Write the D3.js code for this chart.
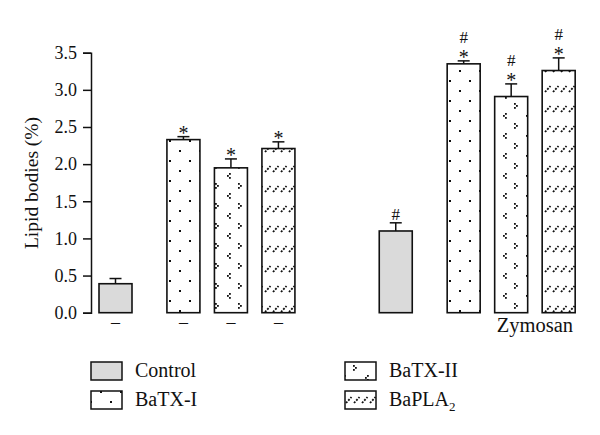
<!DOCTYPE html>
<html>
<head>
<meta charset="utf-8">
<script src="https://cdn.jsdelivr.net/npm/d3@7"></script>
<style>
  body { margin: 0; background: #fff; }
  text { font-family: "Liberation Serif", "DejaVu Serif", serif; fill: #111; }
</style>
</head>
<body>
<div id="chart"></div>
<script>
let width = 600
let height = 435

// data
let treatments = ['Control', 'BaTX-I', 'BaTX-II', 'BaPLA2']
let groups = ['', 'Zymosan']
let noneMeans = [0.39, 2.33, 1.95, 2.21]
let noneErrs = [0.07, 0.04, 0.12, 0.09]
let zymMeans = [1.10, 3.35, 2.91, 3.26]
let zymErrs = [0.11, 0.04, 0.17, 0.17]
let yTicks = [0, 0.5, 1.0, 1.5, 2.0, 2.5, 3.0, 3.5]

let yScale = d3.scaleLinear()
  .domain([0, 3.5])
  .range([312.7, 52.7])

// one unit = spacing of neighbouring toxin bars
let xScale = d3.scaleLinear()
  .domain([0, 1])
  .range([99, 146.5])

let barW = 33

let slot = (g, i) => g * 5.9 + i + (i > 0 ? 0.43 : 0)

let bars = []
groups.forEach((g, gi) => {
  let means = gi === 0 ? noneMeans : zymMeans
  let errs = gi === 0 ? noneErrs : zymErrs
  treatments.forEach((t, i) => {
    bars.push({group: g, gi: gi, treatment: t, ti: i, mean: means[i], err: errs[i]})
  })
})

let svg = d3.select('#chart').append('svg')
  .attr('width', width)
  .attr('height', height)

let defs = svg.append('defs')

// BaTX-I: sparse checker dots
let p1 = defs.append('pattern').attr('id', 'pat1')
  .attr('patternUnits', 'userSpaceOnUse')
  .attr('width', 20).attr('height', 20)
  .attr('x', 9).attr('y', 0)
p1.append('rect').attr('width', 20).attr('height', 20).attr('fill', '#fff')
p1.append('rect').attr('x', 0).attr('y', 0).attr('width', 2).attr('height', 2).attr('fill', '#111')
p1.append('rect').attr('x', 10).attr('y', 10).attr('width', 2).attr('height', 2).attr('fill', '#111')

// BaTX-II: little chevrons
let p2 = defs.append('pattern').attr('id', 'pat2')
  .attr('patternUnits', 'userSpaceOnUse')
  .attr('width', 23).attr('height', 20)
  .attr('x', 215).attr('y', 3)
p2.append('rect').attr('width', 23).attr('height', 20).attr('fill', '#fff')
let chevR = [[0, 0], [2, 2], [0, 4]]
let chevL = [[2, 0], [0, 2], [2, 4]]
chevR.forEach(d => p2.append('rect').attr('x', d[0]).attr('y', d[1]).attr('width', 1.8).attr('height', 1.8).attr('fill', '#111'))
chevL.forEach(d => p2.append('rect').attr('x', d[0] + 12).attr('y', d[1] + 10).attr('width', 1.8).attr('height', 1.8).attr('fill', '#111'))

// BaPLA2: rows of dotted slashes
let p3 = defs.append('pattern').attr('id', 'pat3')
  .attr('patternUnits', 'userSpaceOnUse')
  .attr('width', 8).attr('height', 20)
  .attr('x', 264).attr('y', 5)
p3.append('rect').attr('width', 8).attr('height', 20).attr('fill', '#fff')
p3.append('line')
  .attr('x1', 1).attr('y1', 7).attr('x2', 6.5).attr('y2', 1)
  .attr('stroke', '#111').attr('stroke-width', 1.8)
  .attr('stroke-dasharray', '2,1.3')

let fills = {
  'Control': '#dadada',
  'BaTX-I': 'url(#pat1)',
  'BaTX-II': 'url(#pat2)',
  'BaPLA2': 'url(#pat3)'
}

// y axis
let yAxis = svg.append('g')
  .attr('transform', 'translate(91,0)')
  .call(d3.axisLeft(yScale).tickValues(yTicks).tickFormat(d3.format('.1f')).tickSize(8).tickPadding(6))
yAxis.select('.domain').attr('stroke', '#111').attr('stroke-width', 1.5)
yAxis.selectAll('.tick line').attr('stroke', '#111').attr('stroke-width', 1.5)
yAxis.selectAll('.tick text')
  .style('font-family', '"Liberation Serif", serif')
  .style('font-size', '18px')
  .attr('fill', '#111')

svg.append('text')
  .attr('transform', 'translate(38,183) rotate(-90)')
  .attr('text-anchor', 'middle')
  .style('font-size', '19.5px')
  .text('Lipid bodies (%)')

let barG = svg.append('g')

// error bars
let errG = barG.selectAll('g.err').data(bars).enter().append('g')
errG.append('line')
  .attr('x1', d => xScale(slot(d.gi, d.ti)) + barW / 2)
  .attr('x2', d => xScale(slot(d.gi, d.ti)) + barW / 2)
  .attr('y1', d => yScale(d.mean))
  .attr('y2', d => yScale(d.mean + d.err))
  .attr('stroke', '#111').attr('stroke-width', 1.5)
errG.append('line')
  .attr('x1', d => xScale(slot(d.gi, d.ti)) + barW / 2 - 6)
  .attr('x2', d => xScale(slot(d.gi, d.ti)) + barW / 2 + 6)
  .attr('y1', d => yScale(d.mean + d.err))
  .attr('y2', d => yScale(d.mean + d.err))
  .attr('stroke', '#111').attr('stroke-width', 1.5)

barG.selectAll('rect.bar').data(bars).enter().append('rect')
  .attr('class', 'bar')
  .attr('x', d => xScale(slot(d.gi, d.ti)))
  .attr('y', d => yScale(d.mean))
  .attr('width', barW)
  .attr('height', d => yScale(0) - yScale(d.mean))
  .attr('fill', d => fills[d.treatment])
  .attr('stroke', '#111')
  .attr('stroke-width', 1.6)

// significance marks
barG.selectAll('text.star').data(bars.filter(d => d.ti > 0)).enter().append('text')
  .attr('x', d => xScale(slot(d.gi, d.ti)) + barW / 2)
  .attr('y', d => yScale(d.mean + d.err) + 3.5)
  .attr('text-anchor', 'middle')
  .style('font-size', '20px')
  .text('*')

barG.selectAll('text.hash').data(bars.filter(d => d.gi === 1)).enter().append('text')
  .attr('x', d => xScale(slot(d.gi, d.ti)) + barW / 2)
  .attr('y', d => yScale(d.mean + d.err) - (d.ti > 0 ? 18 : 3))
  .attr('text-anchor', 'middle')
  .style('font-size', '17px')
  .text('#')

// group labels under bars
barG.selectAll('text.dash').data(bars.filter(d => d.gi === 0)).enter().append('text')
  .attr('x', d => xScale(slot(d.gi, d.ti)) + barW / 2)
  .attr('y', 328)
  .attr('text-anchor', 'middle')
  .style('font-size', '18px')
  .text('–')

svg.append('text')
  .attr('x', (xScale(slot(1, 2)) + xScale(slot(1, 3))) / 2 + barW / 2)
  .attr('y', 332)
  .attr('text-anchor', 'middle')
  .style('font-size', '20.5px')
  .text(groups[1])

// legend
let legendItems = [
  {t: 'Control', col: 0, row: 0},
  {t: 'BaTX-I', col: 0, row: 1},
  {t: 'BaTX-II', col: 1, row: 0},
  {t: 'BaPLA2', col: 1, row: 1}
]
let legend = svg.append('g')
let li = legend.selectAll('g').data(legendItems).enter().append('g')
  .attr('transform', d => 'translate(' + (91 + d.col * 254) + ',' + (362 + d.row * 29) + ')')
li.append('rect')
  .attr('width', 31).attr('height', 18)
  .attr('fill', d => fills[d.t])
  .attr('stroke', '#111').attr('stroke-width', 1.5)
let lt = li.append('text')
  .attr('x', 44).attr('y', 15)
  .style('font-size', '20px')
lt.text(d => d.t === 'BaPLA2' ? 'BaPLA' : d.t)
lt.filter(d => d.t === 'BaPLA2').append('tspan')
  .attr('dy', 5).style('font-size', '13px').text('2')
</script>
</body>
</html>
